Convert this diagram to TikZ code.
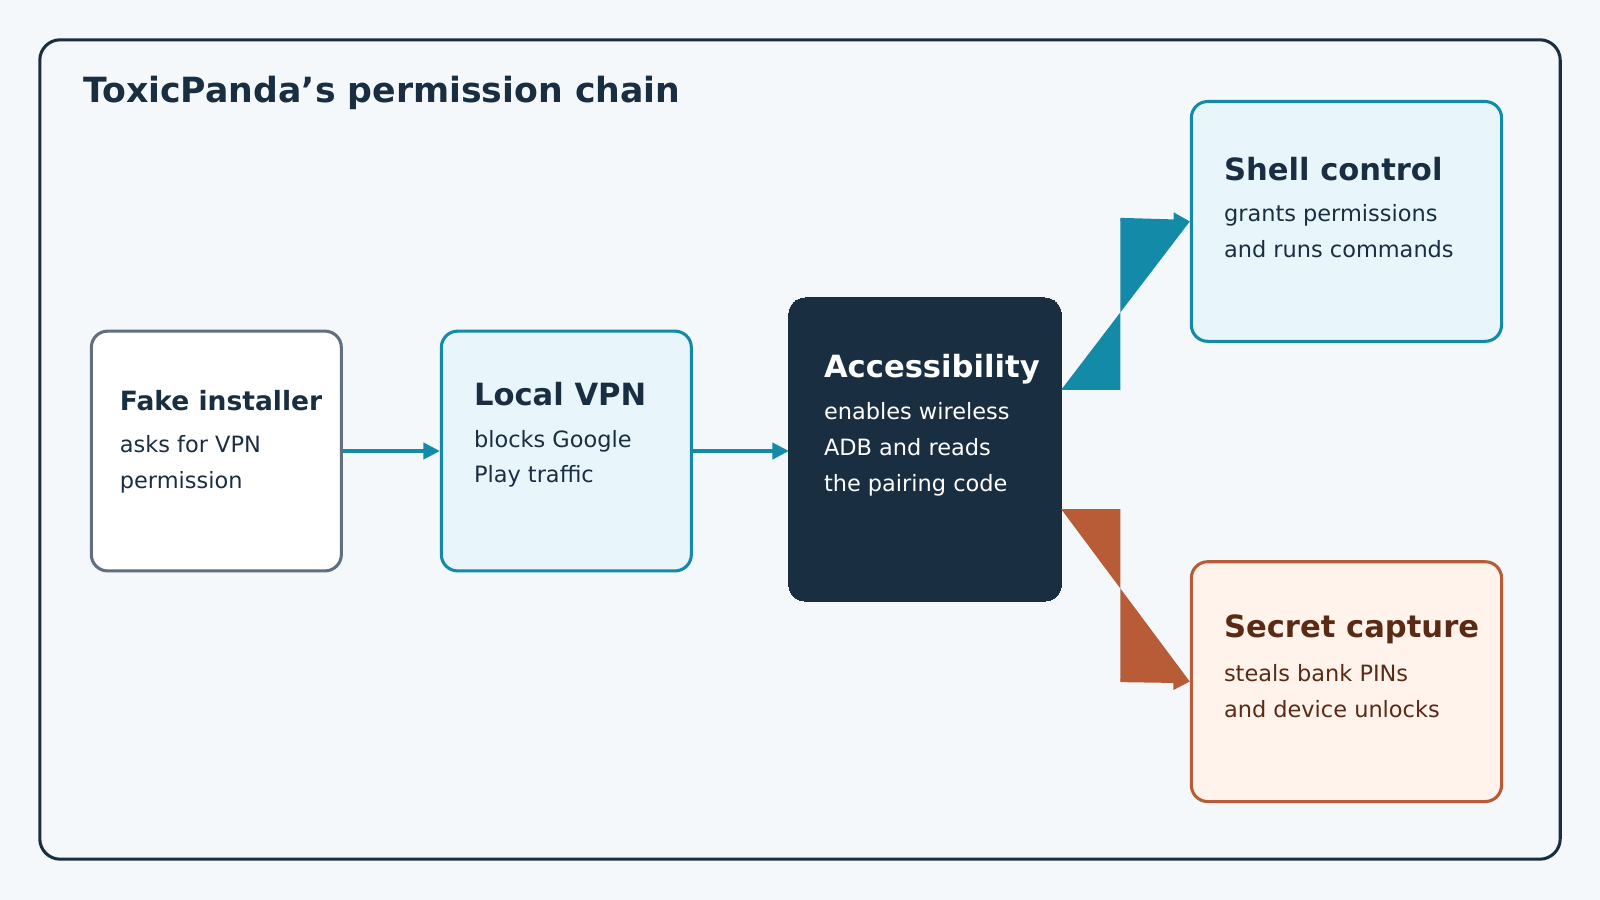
\documentclass[tikz,border=0pt]{standalone}
\usepackage{fontspec}
\setmainfont{DejaVu Sans}
\usetikzlibrary{arrows.meta,positioning}
\definecolor{bgc}{HTML}{F4F8FA}
\definecolor{ink}{HTML}{1A2E42}
\definecolor{teal}{HTML}{138AA8}
\definecolor{rust}{HTML}{B85C38}
\definecolor{slate}{HTML}{5F6F7E}
\definecolor{paleteal}{HTML}{E8F6FB}
\definecolor{palerust}{HTML}{FFF3EC}
\definecolor{brown}{HTML}{5A2A14}
\tikzset{
  box/.style={draw,line width=3pt,rounded corners=16pt,anchor=north west},
  head/.style={anchor=west,font=\bfseries\fontsize{26}{30}\selectfont},
  body/.style={anchor=north west,align=left,font=\fontsize{22}{35}\selectfont},
  link/.style={line width=3pt,-{Triangle[length=16pt,width=16pt]}}
}
\begin{document}
\begin{tikzpicture}[x=1pt,y=-1pt]
\useasboundingbox[fill=bgc] (0,0) rectangle (1568,882);
\draw[ink,line width=3pt,rounded corners=20pt,fill=bgc] (39,39) rectangle (1529,842);
\node[anchor=west,text=ink,font=\bfseries\fontsize{34}{40}\selectfont] (title) at (78,91) {ToxicPanda's permission chain};

% boxes
\node[box,draw=slate,fill=white,minimum width=245pt,minimum height=235pt] (fake) at (88,323) {};
\node[box,draw=teal,fill=paleteal,minimum width=245pt,minimum height=235pt] (vpn) at (431,323) {};
\node[box,draw=ink,fill=ink,line width=0pt,minimum width=267pt,minimum height=297pt] (acc) at (773,292) {};
\node[box,draw=teal,fill=paleteal,minimum width=304pt,minimum height=235pt] (shell) at (1166,98) {};
\node[box,draw=rust,fill=palerust,minimum width=304pt,minimum height=235pt] (secret) at (1166,549) {};

% texts
\node[head,text=ink] (fakeh) at (114,393) {Fake installer};
\node[body,text=ink] (fakeb) at (114,423) {asks for VPN\\permission};
\node[head,text=ink,font=\bfseries\fontsize{30}{34}\selectfont] (vpnh) at (461,386) {Local VPN};
\node[body,text=ink] (vpnb) at (461,418) {blocks Google\\Play traffic};
\node[head,text=white,font=\bfseries\fontsize{30}{34}\selectfont] (acch) at (804,362) {Accessibility};
\node[body,text=white] (accb) at (804,391) {enables wireless\\ADB and reads\\the pairing code};
\node[head,text=ink,font=\bfseries\fontsize{30}{34}\selectfont] (shellh) at (1196,166) {Shell control};
\node[body,text=ink] (shellb) at (1196,197) {grants permissions\\and runs commands};
\node[head,text=brown,font=\bfseries\fontsize{30}{34}\selectfont] (secreth) at (1196,617) {Secret capture};
\node[body,text=brown] (secretb) at (1196,648) {steals bank PINs\\and device unlocks};

% connectors
\draw[link,teal] (fake.east) -- (vpn.west);
\draw[link,teal] (vpn.east) -- (vpn.east-|acc.west);
\coordinate (s1) at (1040,382);
\coordinate (s2) at (1098,382);
\coordinate (s3) at (1098,215);
\fill[teal] (s1) -- (s2) -- (s3) -- (shell.west) -- cycle;
\draw[link,teal] (s3) -- (shell.west);
\coordinate (r1) at (1040,499);
\coordinate (r2) at (1098,499);
\coordinate (r3) at (1098,667);
\fill[rust] (r1) -- (r2) -- (r3) -- (secret.west) -- cycle;
\draw[link,rust] (r3) -- (secret.west);
\end{tikzpicture}
\end{document}
